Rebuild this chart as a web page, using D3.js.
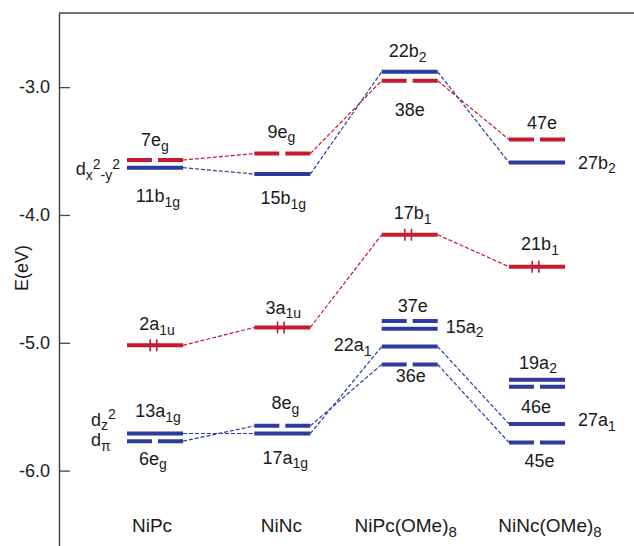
<!DOCTYPE html>
<html>
  <head>
    <meta charset="utf-8">
    <title>Ni phthalocyanine / naphthalocyanine orbital levels</title>
    <style>
      body { margin: 0; background: #fff; }
      text { font-family: "Liberation Sans", Arial, Helvetica, sans-serif; fill: #1a1a1a; }
    </style>
  </head>
  <body>
    <script src="https://d3js.org/d3.v7.min.js"></script>
    <script>
      // compounds along the x axis
      const compounds = ["NiPc", "NiNc", "NiPc(OMe)8", "NiNc(OMe)8"];
      const compoundLabels = ["NiPc", "NiNc", "NiPc(OMe)_8", "NiNc(OMe)_8"];

      // orbital levels: label, compound, energy (eV), character, degenerate, occupied
      const levelIds = [
        "7e_g", "11b_{1g}", "2a_{1u}", "13a_{1g}", "6e_g",
        "9e_g", "15b_{1g}", "3a_{1u}", "8e_g", "17a_{1g}",
        "22b_2", "38e", "17b_1", "37e", "15a_2", "22a_1", "36e",
        "47e", "27b_2", "21b_1", "19a_2", "46e", "27a_1", "45e"
      ];
      const levelCompound = [
        "NiPc", "NiPc", "NiPc", "NiPc", "NiPc",
        "NiNc", "NiNc", "NiNc", "NiNc", "NiNc",
        "NiPc(OMe)8", "NiPc(OMe)8", "NiPc(OMe)8", "NiPc(OMe)8", "NiPc(OMe)8", "NiPc(OMe)8", "NiPc(OMe)8",
        "NiNc(OMe)8", "NiNc(OMe)8", "NiNc(OMe)8", "NiNc(OMe)8", "NiNc(OMe)8", "NiNc(OMe)8", "NiNc(OMe)8"
      ];
      const levelEnergy = [
        -3.57, -3.63, -5.02, -5.71, -5.77,
        -3.52, -3.68, -4.88, -5.65, -5.71,
        -2.88, -2.95, -4.155, -4.83, -4.89, -5.03, -5.17,
        -3.41, -3.59, -4.405, -5.29, -5.345, -5.635, -5.78
      ];
      const levelGroup = [
        "ring", "Ni", "ring", "Ni", "Ni",
        "ring", "Ni", "ring", "Ni", "Ni",
        "Ni", "ring", "ring", "Ni", "Ni", "Ni", "Ni",
        "ring", "Ni", "ring", "Ni", "Ni", "Ni", "Ni"
      ];
      const levelDegenerate = [
        true, false, false, false, true,
        true, false, false, true, false,
        false, true, false, true, false, false, true,
        true, false, false, false, true, false, true
      ];
      const levelOccupied = [
        false, false, true, false, false,
        false, false, true, false, false,
        false, false, true, false, false, false, false,
        false, false, true, false, false, false, false
      ];

      // correlation lines between levels
      const links = [
        ["7e_g", "9e_g"], ["9e_g", "38e"], ["38e", "47e"],
        ["11b_{1g}", "15b_{1g}"], ["15b_{1g}", "22b_2"], ["22b_2", "27b_2"],
        ["2a_{1u}", "3a_{1u}"], ["3a_{1u}", "17b_1"], ["17b_1", "21b_1"],
        ["13a_{1g}", "17a_{1g}"], ["6e_g", "8e_g"],
        ["17a_{1g}", "22a_1"], ["8e_g", "36e"],
        ["22a_1", "27a_1"], ["36e", "45e"]
      ];

      // d-orbital annotations
      const annotations = ["d_{x}^{2}_{-y}^{2}", "d_{z}^{2}", "d_{π}"];

      const yTicks = [-3, -4, -5, -6];
      const yDomain = [-2.42, -6.59];

      const W = 634, H = 546;
      const red = "#c51a30", blue = "#2c3b9c";
      const hw = 28;

      const svg = d3.select("body").append("svg")
        .attr("width", W).attr("height", H);

      const x = d3.scalePoint().domain(compounds).range([155, 537]);
      const y = d3.scaleLinear().domain(yDomain).range([13, H]);

      const levels = levelIds.map((id, i) => ({
        id: id,
        compound: levelCompound[i],
        energy: levelEnergy[i],
        group: levelGroup[i],
        degenerate: levelDegenerate[i],
        occupied: levelOccupied[i]
      }));
      const byId = new Map(levels.map(d => [d.id, d]));
      const color = d => d.group === "ring" ? red : blue;

      // rich label: _x / _{..} subscript, ^x / ^{..} superscript
      const rich = (sel, s, size) => {
        const re = /([_^])(\{[^}]*\}|.)|([^_^]+)/g;
        let m, cur = 0;
        while ((m = re.exec(s)) !== null) {
          let txt, off = 0, small = false;
          if (m[3]) { txt = m[3]; }
          else {
            txt = m[2].replace(/[{}]/g, "");
            small = true;
            off = m[1] === "_" ? 4.5 : -6.5;
          }
          sel.append("tspan")
            .attr("dy", off - cur)
            .attr("font-size", small ? Math.round(size * 0.78) : size)
            .text(txt);
          cur = off;
        }
      };

      // frame
      svg.append("line")
        .attr("x1", 59).attr("x2", W).attr("y1", 13).attr("y2", 13)
        .attr("stroke", "#444").attr("stroke-width", 1.5);

      const axis = svg.append("g")
        .attr("transform", "translate(59,0)")
        .call(d3.axisLeft(y)
          .tickValues(yTicks)
          .tickFormat(d => d.toFixed(1))
          .tickSizeInner(-11)
          .tickSizeOuter(0)
          .tickPadding(9));
      axis.select(".domain").attr("stroke", "#444").attr("stroke-width", 1.5);
      axis.selectAll(".tick line").attr("stroke", "#444").attr("stroke-width", 1.3);
      axis.selectAll(".tick text")
        .attr("font-size", 18)
        .attr("font-family", "Liberation Sans, Arial, sans-serif")
        .attr("fill", "#1a1a1a");

      svg.append("text")
        .attr("transform", "translate(28,268) rotate(-90)")
        .attr("text-anchor", "middle")
        .attr("font-size", 18)
        .text("E(eV)");

      // correlation lines
      svg.append("g").selectAll("line")
        .data(links)
        .join("line")
        .attr("x1", d => x(byId.get(d[0]).compound) + hw)
        .attr("y1", d => y(byId.get(d[0]).energy))
        .attr("x2", d => x(byId.get(d[1]).compound) - hw)
        .attr("y2", d => y(byId.get(d[1]).energy))
        .attr("stroke", d => color(byId.get(d[0])))
        .attr("stroke-width", 1.2)
        .attr("stroke-dasharray", "4,2");

      // levels
      svg.append("g").selectAll("line")
        .data(levels)
        .join("line")
        .attr("x1", d => x(d.compound) - hw)
        .attr("x2", d => x(d.compound) + hw)
        .attr("y1", d => y(d.energy))
        .attr("y2", d => y(d.energy))
        .attr("stroke", color)
        .attr("stroke-width", 4)
        .attr("stroke-dasharray", d => d.degenerate ? "25,6" : null);

      // electron pairs on occupied levels
      svg.append("g").selectAll("line")
        .data(levels.filter(d => d.occupied).flatMap(d => [[d, -3.3], [d, 3.3]]))
        .join("line")
        .attr("x1", d => x(d[0].compound) - 1.5 + d[1])
        .attr("x2", d => x(d[0].compound) - 1.5 + d[1])
        .attr("y1", d => y(d[0].energy) - 6)
        .attr("y2", d => y(d[0].energy) + 6)
        .attr("stroke", d => color(d[0]))
        .attr("stroke-width", 1.6);

      // label placement: [anchor, dx, dy] (middle: from centre, start/end: from bar edge)
      const place = {
        "7e_g": ["middle", 0, -13.5], "11b_{1g}": ["middle", 3, 34.5],
        "2a_{1u}": ["middle", 2, -15], "13a_{1g}": ["middle", 3, -16.5],
        "6e_g": ["middle", -2, 23.5],
        "9e_g": ["middle", -1, -16], "15b_{1g}": ["middle", 1, 30],
        "3a_{1u}": ["middle", 1, -13.5], "8e_g": ["middle", 3, -16.5],
        "17a_{1g}": ["middle", 3, 30],
        "22b_2": ["middle", -2, -14.5], "38e": ["middle", 0, 35],
        "17b_1": ["middle", 3, -15.7], "37e": ["middle", 3, -9],
        "15a_2": ["start", 8, 4], "22a_1": ["end", -10, 4.5], "36e": ["middle", 1, 17.4],
        "47e": ["middle", 5, -11], "27b_2": ["start", 13, 6],
        "21b_1": ["middle", 3, -16.5], "19a_2": ["middle", 1, -11],
        "46e": ["middle", -1, 26.5], "27a_1": ["start", 13, 2.5],
        "45e": ["middle", 2.5, 24.7]
      };

      svg.append("g").selectAll("text")
        .data(levels)
        .join("text")
        .attr("font-size", 18)
        .attr("text-anchor", d => place[d.id][0])
        .attr("x", d => {
          const p = place[d.id], cx = x(d.compound);
          const base = p[0] === "start" ? cx + hw : p[0] === "end" ? cx - hw : cx;
          return base + p[1];
        })
        .attr("y", d => y(d.energy) + place[d.id][2])
        .each(function (d) { rich(d3.select(this), d.id, 18); });

      // d-orbital annotations
      const annPlace = [["end", -35, "11b_{1g}", 7.5], ["start", -64, "13a_{1g}", -8], ["start", -64, "6e_g", 5]];
      svg.append("g").selectAll("text")
        .data(annotations)
        .join("text")
        .attr("font-size", 18)
        .attr("text-anchor", (d, i) => annPlace[i][0])
        .attr("x", (d, i) => x("NiPc") + annPlace[i][1])
        .attr("y", (d, i) => y(byId.get(annPlace[i][2]).energy) + annPlace[i][3])
        .each(function (d) { rich(d3.select(this), d, 18); });

      // compound names
      const nameDx = [-3, -1, -4, 13];
      svg.append("g").selectAll("text")
        .data(compounds)
        .join("text")
        .attr("font-size", 19)
        .attr("text-anchor", "middle")
        .attr("x", (d, i) => x(d) + nameDx[i])
        .attr("y", 532)
        .each(function (d, i) { rich(d3.select(this), compoundLabels[i], 19); });
    </script>
  </body>
</html>
